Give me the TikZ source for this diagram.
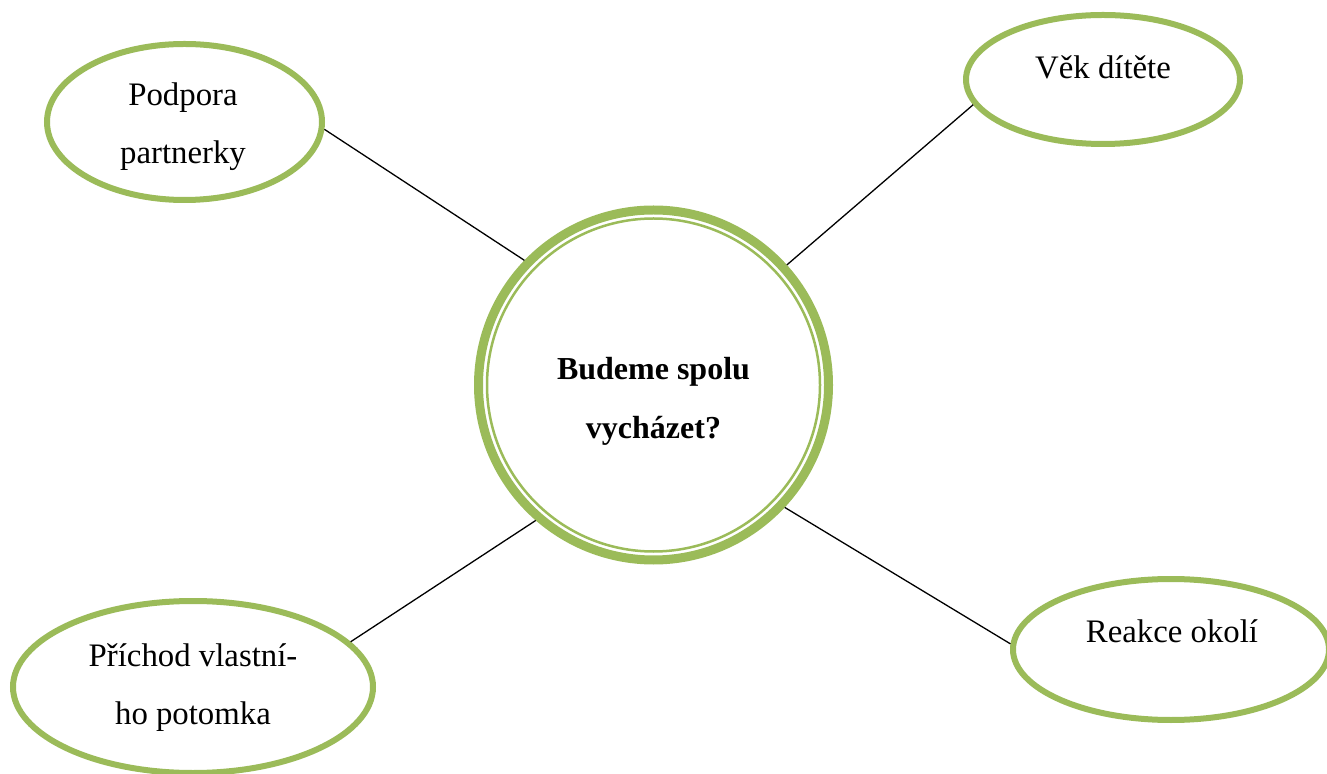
\documentclass[tikz,border=0pt]{standalone}
\usepackage{fontspec}
\setmainfont{Liberation Serif}
\usetikzlibrary{shapes.geometric}
\definecolor{ogreen}{HTML}{9BBB59}
\tikzset{
  bubble/.style={draw=ogreen, line width=3pt, ellipse, inner sep=0pt, fill=white},
  hub/.style={draw=ogreen, line width=4.5pt, circle, inner sep=0pt, fill=white, minimum size=175pt},
  ring/.style={draw=ogreen, line width=1.25pt},
  link/.style={draw=black, line width=0.65pt},
  lbl/.style={font=\fontsize{16.4}{29}\selectfont, align=center, inner sep=0pt},
  hublbl/.style={font=\fontsize{16}{29.5}\selectfont\bfseries, align=center, inner sep=0pt}
}
\begin{document}
\begin{tikzpicture}[x=0.5pt,y=-0.5pt]
\useasboundingbox (0,0) rectangle (1327,774);
% nodes
\node[hub] (c) at (653.5,385) {};
\draw[ring] (c.center) circle (166.5);
\node[bubble, minimum width=137.5pt, minimum height=78pt] (pod) at (184.5,122) {};
\node[bubble, minimum width=137pt, minimum height=64.5pt] (vek) at (1103,79.5) {};
\node[bubble, minimum width=180pt, minimum height=86pt] (pri) at (193,687) {};
\node[bubble, minimum width=158pt, minimum height=70.5pt] (rea) at (1171,649.5) {};
% texts
\node[hublbl] (ct) at (653.5,401) {Budeme spolu\\vycházet?};
\node[lbl] (podt) at (183,127) {Podpora\\partnerky};
\node[lbl] (vekt) at (1103,67) {Věk dítěte};
\node[lbl] (prit) at (193,688) {Příchod vlastní-\\ho potomka};
\node[lbl] (reat) at (1172,631) {Reakce okolí};
% connectors
\draw[link] (c.136.4) -- (pod.-3.3);
\draw[link] (c.42.9) -- (vek.191.4);
\draw[link] (c.229.2) -- (pri.16.5);
\draw[link] (c.317.6) -- (rea.178.7);
\end{tikzpicture}
\end{document}
